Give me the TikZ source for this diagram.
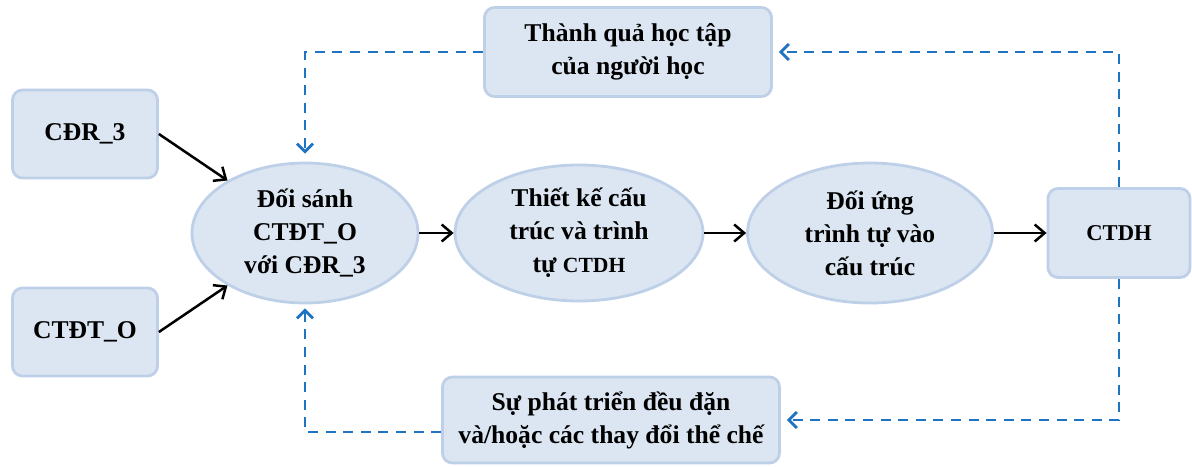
\documentclass[tikz,border=0pt]{standalone}
\usepackage{fontspec}
\setmainfont{Liberation Serif}
\usetikzlibrary{arrows.meta,shapes.geometric}
\definecolor{boxfill}{RGB}{220,230,242}
\definecolor{boxline}{RGB}{190,208,232}
\definecolor{loopblue}{RGB}{30,115,195}
\tikzset{
  block/.style    = {shape=rectangle, rounded corners=5pt,
                     draw=boxline, line width=1.4pt, fill=boxfill,
                     align=center, inner sep=0pt,
                     font=\fontsize{12.8}{16.5}\selectfont\bfseries},
  task/.style     = {block, shape=ellipse},
  small/.style    = {font=\fontsize{11.3}{13}\selectfont\bfseries},
  flow/.style     = {draw, line width=1.25pt,
                     -{Straight Barb[length=5pt,width=8.5pt]}},
  feedback/.style = {draw=loopblue, line width=1.4pt,
                     dash pattern=on 5pt off 3.8pt,
                     -{Straight Barb[length=4pt,width=8pt]}}
}

\begin{document}
\begin{tikzpicture}[x=0.5pt, y=-0.5pt]
  \useasboundingbox (0,0) rectangle (1192,466);

  % inputs
  \node [block, minimum width=72.5pt, minimum height=44pt] (cdr)  at (85,134) {CĐR\_3};
  \node [block, minimum width=72.5pt, minimum height=44pt] (ctdt) at (85,332) {CTĐT\_O};

  % main steps
  \node [task, minimum width=113pt, minimum height=70pt] (match) at (305,233)
    {Đối sánh\\CTĐT\_O\\với CĐR\_3};
  \node [task, minimum width=124pt, minimum height=68pt] (design) at (579,233)
    {Thiết kế cấu\\trúc và trình\\tự {\fontsize{10.8}{13}\selectfont CTDH}};
  \node [task, minimum width=122.5pt, minimum height=70pt] (map) at (870,233)
    {Đối ứng\\trình tự vào\\cấu trúc};
  \node [block, small, minimum width=71pt, minimum height=44.5pt] (ctdh) at (1119,233) {CTDH};

  % feedback
  \node [block, minimum width=143.5pt, minimum height=44.5pt] (outcome) at (628,52)
    {Thành quả học tập\\của người học};
  \node [block, minimum width=168.5pt, minimum height=43pt] (change) at (611,420)
    {Sự phát triển đều đặn\\và/hoặc các thay đổi thể chế};

  \draw [flow] (cdr.east) -- (match);
  \draw [flow] (ctdt.east) -- (match);
  \draw [flow] (match) -- (design);
  \draw [flow] (design) -- (map);
  \draw [flow] (map) -- (ctdh);

  \draw [feedback, shorten >=3pt] (ctdh.north) |- (outcome.east);
  \draw [feedback, shorten >=4pt] (outcome.west) -| (match.north);
  \draw [feedback, shorten >=3pt] (ctdh.south) |- (change.east);
  \draw [feedback, shorten >=2pt] ([yshift=-6pt]change.west) -| (match.south);
\end{tikzpicture}
\end{document}
